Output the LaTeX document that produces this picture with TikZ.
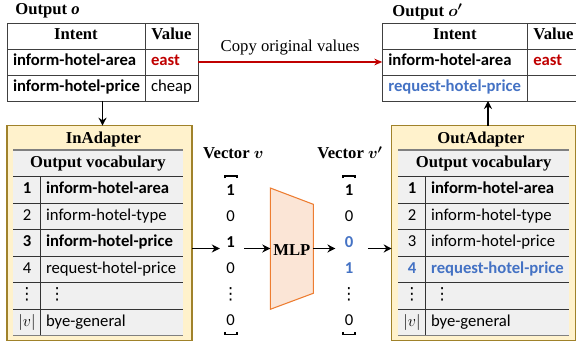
\documentclass[tikz,border=0pt]{standalone}
\usepackage{amsmath}
\usepackage{fontspec}
\setmainfont{Liberation Serif}
\setsansfont{Carlito}
\newfontfamily\symfont{DejaVu Sans}
\usetikzlibrary{positioning,arrows.meta}
\definecolor{adfill}{HTML}{FFF2CC}
\definecolor{adline}{HTML}{A0822A}
\definecolor{tabfill}{HTML}{F0F0F0}
\definecolor{copyred}{HTML}{C00000}
\definecolor{newblue}{HTML}{4472C4}
\definecolor{mlpfill}{HTML}{FBE5D6}
\definecolor{mlpline}{HTML}{ED7D31}
\exhyphenpenalty=10000
\hyphenpenalty=10000
\newcommand{\fs}{\fontsize{12.5}{14}\selectfont}
\newcommand{\vd}{{\symfont ⋮}}
\begin{document}
\begin{tikzpicture}[x=0.75pt,y=-0.75pt,
      every node/.style={outer sep=0pt,font=\fs},
      title/.style={font=\fs\bfseries},
      cell/.style={draw=black!75,line width=0.6pt,inner sep=0pt,inner xsep=4.5pt,
        minimum height=19.5pt,text height=8.5pt,text depth=2.5pt,text width=#1,
        align=left,font=\fs\sffamily},
      head/.style={cell=#1,align=center,font=\fs\bfseries},
      idx/.style={fill=tabfill,inner sep=0pt,minimum width=20.55pt,minimum height=19.875pt,
        text height=8.5pt,text depth=2.5pt,font=\fs\sffamily},
      voc/.style={fill=tabfill,inner sep=0pt,inner xsep=4pt,minimum height=19.875pt,
        text height=8.5pt,text depth=2.5pt,text width=#1,align=left,font=\fs\sffamily},
      adapter/.style={draw=adline,fill=adfill,line width=1pt,minimum width=138.75pt,minimum height=161.25pt},
      num/.style={anchor=base,inner sep=2pt,font=\fs\sffamily},
      rowline/.style={draw=black!80,line width=0.6pt},
      edgeline/.style={draw=black!50,line width=1.3pt},
      arr/.style={line width=1.3pt,-{Stealth[length=6pt,width=6pt]}}]
  \clip (0,0) rectangle (576,345);

  % output o
  \node[title,anchor=base] (oTitle) at (47.5,14.5) {Output \textit{o}};
  \node[head=94.5pt] (oH1) at (76,36) {Intent};
  \node[head=30.75pt,right=0pt of oH1] (oH2) {Value};
  \node[cell=94.5pt,below=0pt of oH1] (oI1) {\textbf{inform-hotel-area}};
  \node[cell=30.75pt,right=0pt of oI1] (oV1) {\textbf{\color{copyred}east}};
  \node[cell=94.5pt,below=0pt of oI1] (oI2) {\textbf{inform-hotel-price}};
  \node[cell=30.75pt,right=0pt of oI2] (oV2) {cheap};
  \coordinate (oBot) at (102.5,101);

  % output o'
  \node[title,anchor=base] (nTitle) at (427.5,16.5) {Output $\boldsymbol{o'}$};
  \node[head=99.75pt] (nH1) at (454.8,36) {Intent};
  \node[head=29.25pt,right=0pt of nH1] (nH2) {Value};
  \node[cell=99.75pt,below=0pt of nH1] (nI1) {\textbf{inform-hotel-area}};
  \node[cell=29.25pt,right=0pt of nI1] (nV1) {\textbf{\color{copyred}east}};
  \node[cell=99.75pt,below=0pt of nI1] (nI2) {\textbf{\color{newblue}request-hotel-price}};
  \node[cell=29.25pt,right=0pt of nI2] (nV2) {};
  \coordinate (nBot) at (488,101);

  \draw[copyred,line width=1.5pt,-{Stealth[length=6pt,width=5pt]}] (oV1.east) -- (nI1.west)
    node[midway,above=2pt,text=black] (copy) {Copy original values};

  % InAdapter
  \node[adapter] (inAd) at (99.5,233.2) {};
  \node[title] (inT) at (103.5,139) {InAdapter};
  \node[fill=tabfill,inner sep=0pt,minimum width=127.05pt,minimum height=19.875pt,title] (inH) at (98,163.25) {Output vocabulary};
  \node[idx,below right=0pt and 0pt of inH.south west] (ia1) {\textbf{1}};
  \node[voc=98.5pt,right=0pt of ia1] (iv1) {\textbf{inform-hotel-area}};
  \node[idx,below=0pt of ia1] (ia2) {2};
  \node[voc=98.5pt,right=0pt of ia2] (iv2) {inform-hotel-type};
  \node[idx,below=0pt of ia2] (ia3) {\textbf{3}};
  \node[voc=98.5pt,right=0pt of ia3] (iv3) {\textbf{inform-hotel-price}};
  \node[idx,below=0pt of ia3] (ia4) {4};
  \node[voc=98.5pt,right=0pt of ia4] (iv4) {request-hotel-price};
  \node[idx,below=0pt of ia4] (ia5) {\vd};
  \node[voc=98.5pt,right=0pt of ia5] (iv5) {\,\vd};
  \node[idx,below=0pt of ia5] (ia6) {$|v|$};
  \node[voc=98.5pt,right=0pt of ia6] (iv6) {bye-general};
  \foreach \r in {1,...,5} {\draw[rowline] (ia\r.south west) -- (iv\r.south east);}
  \draw[edgeline] (inH.north west) -- (inH.north east);
  \draw[rowline] (inH.south west) -- (inH.south east);
  \draw[edgeline] (ia6.south west) -- (iv6.south east);
  \draw[rowline] (ia1.north east) -- (ia6.south east);

  % OutAdapter
  \node[adapter,minimum width=138pt] (outAd) at (483.7,233.2) {};
  \node[title] (outT) at (481,139) {OutAdapter};
  \node[fill=tabfill,inner sep=0pt,minimum width=128.05pt,minimum height=19.875pt,title] (outH) at (483.65,163.25) {Output vocabulary};
  \node[idx,below right=0pt and 0pt of outH.south west] (oa1) {\textbf{1}};
  \node[voc=99.5pt,right=0pt of oa1] (ov1) {\textbf{inform-hotel-area}};
  \node[idx,below=0pt of oa1] (oa2) {2};
  \node[voc=99.5pt,right=0pt of oa2] (ov2) {inform-hotel-type};
  \node[idx,below=0pt of oa2] (oa3) {3};
  \node[voc=99.5pt,right=0pt of oa3] (ov3) {inform-hotel-price};
  \node[idx,below=0pt of oa3] (oa4) {\textbf{\color{newblue}4}};
  \node[voc=99.5pt,right=0pt of oa4] (ov4) {\textbf{\color{newblue}request-hotel-price}};
  \node[idx,below=0pt of oa4] (oa5) {\vd};
  \node[voc=99.5pt,right=0pt of oa5] (ov5) {\,\vd};
  \node[idx,below=0pt of oa5] (oa6) {$|v|$};
  \node[voc=99.5pt,right=0pt of oa6] (ov6) {bye-general};
  \foreach \r in {1,...,5} {\draw[rowline] (oa\r.south west) -- (ov\r.south east);}
  \draw[edgeline] (outH.north west) -- (outH.north east);
  \draw[rowline] (outH.south west) -- (outH.south east);
  \draw[edgeline] (oa6.south west) -- (ov6.south east);
  \draw[rowline] (oa1.north east) -- (oa6.south east);

  % vectors
  \node[title,anchor=base] (vT) at (233.3,159) {Vector $\boldsymbol{v}$};
  \node[num] (v1) at (230.7,196) {\textbf{1}};
  \node[num] (v2) at (230.7,222) {0};
  \node[num] (v3) at (230.7,248) {\textbf{1}};
  \node[num] (v4) at (230.7,274) {0};
  \node[num] (v5) at (230.7,300) {\vd};
  \node[num] (v6) at (230.7,326) {0};
  \draw[line width=0.8pt] (225,178.5) |- (237,176) -- (237,178.5);
  \draw[line width=0.8pt] (225,332) |- (237,334.5) -- (237,332);

  \node[title,anchor=base] (wT) at (350,159) {Vector $\boldsymbol{v'}$};
  \node[num] (w1) at (349,196) {\textbf{1}};
  \node[num] (w2) at (349,222) {0};
  \node[num] (w3) at (349,248) {\textbf{\color{newblue}0}};
  \node[num] (w4) at (349,274) {\textbf{\color{newblue}1}};
  \node[num] (w5) at (349,300) {\vd};
  \node[num] (w6) at (349,326) {0};
  \draw[line width=0.8pt] (343,178.5) |- (355,176) -- (355,178.5);
  \draw[line width=0.8pt] (343,332) |- (355,334.5) -- (355,332);

  % MLP
  \draw[mlpline,fill=mlpfill,line width=0.8pt] (270.3,188) -- (313.3,204.3) -- (313.3,293.3) -- (270.3,309.3) -- cycle;
  \node[title,inner sep=0pt,minimum width=32.25pt] (mlp) at (291.8,250) {MLP};

  % arrows
  \coordinate (midY) at (0,248.5);
  \draw[arr] (oBot) -- (oBot |- inAd.north);
  \draw[arr] (nBot |- outAd.north) -- (nBot);
  \draw[arr,shorten >=3pt] (inAd.east |- midY) -- (v3.west |- midY);
  \draw[arr,shorten <=5pt] (v3.east |- midY) -- (mlp.west |- midY);
  \draw[arr,shorten >=5pt] (mlp.east |- midY) -- (w3.west |- midY);
  \draw[arr,shorten <=9pt] (w3.east |- midY) -- (outAd.west |- midY);
\end{tikzpicture}
\end{document}
